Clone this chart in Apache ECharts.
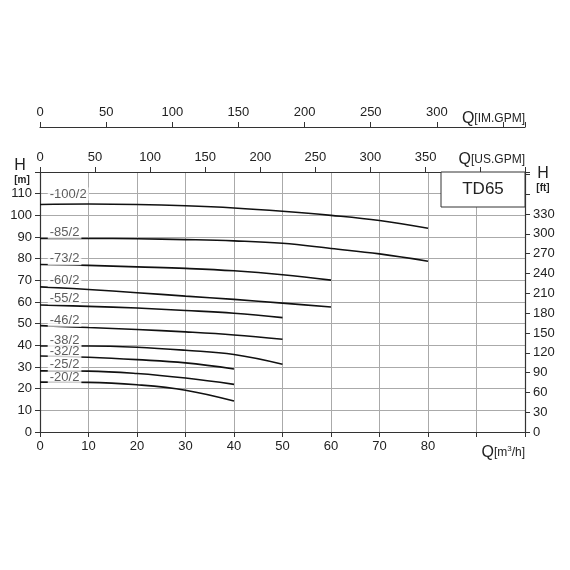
<!DOCTYPE html>
<html>
<head>
<meta charset="utf-8">
<script src="https://cdn.jsdelivr.net/npm/echarts@6/dist/echarts.min.js"></script>
<style>html,body{margin:0;background:#fff}#c{width:570px;height:570px}</style>
</head>
<body>
<div id="c"></div>
<script>
// pump curves TD65, Q in m3/h, H in m
const names = ['-100/2', '-85/2', '-73/2', '-60/2', '-55/2', '-46/2', '-38/2', '-32/2', '-25/2', '-20/2'];
const flows = [0, 10, 20, 30, 40, 50, 60, 70, 80];
const heads = [
  [105, 105.2, 105, 104.4, 103.4, 101.9, 100, 97.6, 94],
  [89.3, 89.3, 89.2, 88.8, 88.2, 87.1, 84.7, 82.2, 78.8],
  [77.3, 76.9, 76.2, 75.5, 74.4, 72.6, 70.1],
  [67, 65.8, 64.3, 62.7, 61.2, 59.5, 57.7],
  [58.6, 58, 57.2, 56.1, 54.8, 52.8],
  [49.1, 48.2, 47.3, 46.2, 44.8, 42.8],
  [39.7, 39.7, 39.1, 37.7, 35.8, 31.3],
  [35.1, 34.5, 33.4, 31.9, 29.1],
  [28.2, 28.1, 27, 24.9, 22],
  [23, 22.9, 21.8, 19.3, 14.3]
];
const labelX = 1.6;
const labelY = [109.8, 92.2, 80, 70, 61.8, 51.6, 42.4, 37, 31, 25];

const font = 'Liberation Sans, Arial, sans-serif';
const chart = echarts.init(document.getElementById('c'));

const series = heads.map(function (h, i) {
  return {
    type: 'line',
    smooth: 0.4,
    symbol: 'none',
    xAxisIndex: 0,
    yAxisIndex: 0,
    lineStyle: { color: '#111', width: 1.6 },
    data: h.map(function (v, j) { return [flows[j], v]; }),
    z: 3
  };
});
series.push({
  type: 'scatter',
  symbolSize: 0,
  data: names.map(function (n, i) { return [labelX, labelY[i], n]; }),
  label: {
    show: true, position: 'right', distance: 0,
    formatter: function (p) { return p.data[2]; },
    color: '#333', fontSize: 13, fontFamily: font,
    backgroundColor: '#fff', padding: [0, 2]
  },
  z: 4
});

const axisLine = { onZero: false, lineStyle: { color: '#333', width: 1.2 } };
const tickOut = { show: true, length: 5, inside: false, lineStyle: { color: '#333' } };
const lbl = { color: '#222', fontSize: 13, fontFamily: font };

chart.setOption({
  animation: false,
  grid: { left: 40, right: 45, top: 172, bottom: 138 },
  xAxis: [
    {
      type: 'value', min: 0, max: 100, interval: 10, position: 'bottom',
      axisLine: axisLine, axisTick: tickOut,
      axisLabel: Object.assign({}, lbl, { formatter: function (v) { return v <= 80 ? v : ''; } }),
      splitLine: { show: true, lineStyle: { color: '#aaa', width: 1 } }
    },
    {
      type: 'value', min: 0, max: 440.3, interval: 50, position: 'top',
      axisLine: axisLine, axisTick: tickOut,
      axisLabel: Object.assign({}, lbl, { formatter: function (v) { return v <= 350 ? v : ''; } }),
      splitLine: { show: false }
    },
    {
      type: 'value', min: 0, max: 366.6, interval: 50, position: 'top', offset: 45,
      axisLine: axisLine, axisTick: tickOut,
      axisLabel: Object.assign({}, lbl, { formatter: function (v) { return v <= 300 ? v : ''; } }),
      splitLine: { show: false }
    }
  ],
  yAxis: [
    {
      type: 'value', min: 0, max: 120, interval: 10, position: 'left',
      axisLine: axisLine, axisTick: tickOut,
      axisLabel: Object.assign({}, lbl, { formatter: function (v) { return v <= 110 ? v : ''; } }),
      splitLine: { show: true, lineStyle: { color: '#aaa', width: 1 } }
    },
    {
      type: 'value', min: 0, max: 393.7, interval: 30, position: 'right',
      axisLine: axisLine, axisTick: tickOut,
      axisLabel: Object.assign({}, lbl, { formatter: function (v) { return v <= 330 ? v : ''; } }),
      splitLine: { show: false }
    }
  ],
  series: series,
  graphic: [
    { type: 'rect', shape: { x: 441, y: 172, width: 84, height: 35 }, style: { fill: '#fff', stroke: '#333', lineWidth: 1 }, z: 10 },
    { type: 'text', x: 483, y: 189, style: { text: 'TD65', font: '17px ' + font, fill: '#222', align: 'center', verticalAlign: 'middle' }, z: 11 },
    { type: 'text', x: 525, y: 127, style: { text: '{q|Q}{u|[IM.GPM]}', align: 'right', verticalAlign: 'bottom', rich: { q: { font: '16px ' + font, fill: '#222' }, u: { font: '12px ' + font, fill: '#222' } } }, z: 11 },
    { type: 'text', x: 525, y: 168, style: { text: '{q|Q}{u|[US.GPM]}', align: 'right', verticalAlign: 'bottom', rich: { q: { font: '16px ' + font, fill: '#222' }, u: { font: '12px ' + font, fill: '#222' } } }, z: 11 },
    { type: 'text', x: 525, y: 453, style: { text: '{q|Q}{u|[m}{s|3}{u|/h]}', align: 'right', verticalAlign: 'middle', rich: { q: { font: '16px ' + font, fill: '#222' }, u: { font: '12px ' + font, fill: '#222' }, s: { font: '8px ' + font, fill: '#222', verticalAlign: 'top', padding: [0, 0, 6, 0] } } }, z: 11 },
    { type: 'text', x: 20, y: 166, style: { text: 'H', font: '16px ' + font, fill: '#222', align: 'center', verticalAlign: 'middle' } },
    { type: 'text', x: 22, y: 180, style: { text: '[m]', font: 'bold 10px ' + font, fill: '#222', align: 'center', verticalAlign: 'middle' } },
    { type: 'text', x: 543, y: 174, style: { text: 'H', font: '16px ' + font, fill: '#222', align: 'center', verticalAlign: 'middle' } },
    { type: 'text', x: 543, y: 188, style: { text: '[ft]', font: 'bold 10px ' + font, fill: '#222', align: 'center', verticalAlign: 'middle' } }
  ]
});
</script>
</body>
</html>
